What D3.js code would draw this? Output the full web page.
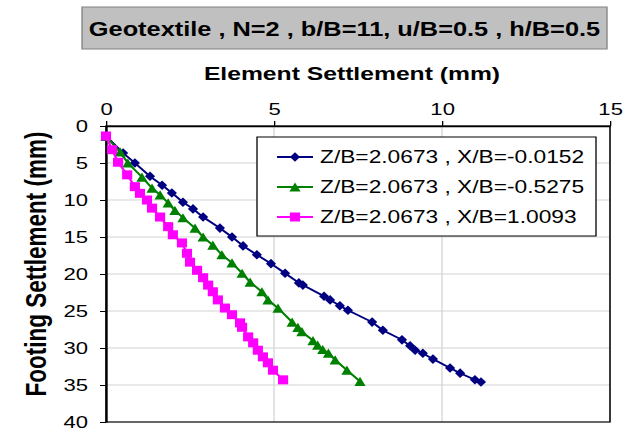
<!DOCTYPE html>
<html>
<head>
    <title>Geotextile element settlement</title>
    <script src="https://cdnjs.cloudflare.com/ajax/libs/d3/7.8.5/d3.min.js"></script>
    <style>
        body { margin: 0; background: #fff; }
        text { font-family: "Liberation Sans", Arial, sans-serif; }
    </style>
</head>
<body>
<svg id="chart" width="625" height="430"></svg>
<script>
    // values: [element settlement, footing settlement]
    var seriesNames = ["Z/B=2.0673 , X/B=-0.0152", "Z/B=2.0673 , X/B=-0.5275", "Z/B=2.0673 , X/B=1.0093"];
    var seriesColors = ["#000080", "#008000", "#ff00ff"];
    var seriesShapes = ["diamond", "triangle", "square"];

    var blue = [[0,1.35],[0.51,3.65],[0.86,5.0],[1.31,6.8],[1.67,8.0],[1.96,9.05],[2.29,10.3],[2.59,11.2],
        [2.89,12.3],[3.39,13.8],[3.75,15.0],[4.08,16.2],[4.49,17.4],[4.91,18.6],[5.33,19.9],[5.74,21.2],
        [5.86,21.5],[6.49,23.0],[6.67,23.5],[6.96,24.3],[7.2,24.9],[7.92,26.5],[8.24,27.6],[8.81,28.9],
        [9.05,29.7],[9.2,30.3],[9.43,30.7],[9.73,31.5],[10.24,32.7],[10.54,33.4],[10.98,34.3],[11.16,34.6]];
    var green = [[0,1.4],[0.42,3.5],[0.65,5.0],[1.07,6.9],[1.37,8.4],[1.61,9.3],[1.85,10.4],[2.05,11.4],
        [2.29,12.4],[2.65,13.8],[2.89,15.0],[3.18,16.1],[3.45,17.4],[3.75,18.5],[4.05,19.9],[4.29,21.1],
        [4.64,22.4],[4.82,23.5],[5.12,24.6],[5.54,26.5],[5.71,27.2],[5.83,27.8],[6.16,29.0],[6.3,29.6],
        [6.45,30.2],[6.62,30.7],[6.82,31.6],[7.17,33.0],[7.56,34.5]];
    var pink = [[0,1.35],[0.18,3.2],[0.36,4.9],[0.63,6.6],[0.86,8.2],[1.01,9.1],[1.22,10.0],[1.37,11.1],
        [1.61,12.3],[1.85,13.6],[1.99,14.7],[2.26,15.8],[2.41,17.2],[2.5,18.4],[2.71,19.5],[2.89,20.5],
        [3.04,21.5],[3.18,22.4],[3.33,23.5],[3.54,24.6],[3.75,25.5],[3.99,26.6],[4.05,27.2],[4.23,28.5],
        [4.38,29.3],[4.52,30.3],[4.67,31.2],[4.82,32.0],[4.97,33.0],[5.27,34.3]];

    var xTicks = [0, 5, 10, 15];
    var yTicks = [0, 5, 10, 15, 20, 25, 30, 35, 40];
    var chartTitle = "Geotextile , N=2 , b/B=11, u/B=0.5 , h/B=0.5";
    var xTitle = "Element Settlement (mm)";
    var yTitle = "Footing Settlement (mm)";

    // the original picture is stretched sideways, so draw in a squeezed frame and scale it back
    var SX = 1.3;
    var svg = d3.select("#chart");
    var g = svg.append("g").attr("transform", "scale(" + SX + ",1)");

    var plotLeft = 106 / SX, plotRight = 610 / SX, plotTop = 126, plotBottom = 422;
    var x = d3.scaleLinear().domain([0, 15]).range([plotLeft, plotRight]);
    var y = d3.scaleLinear().domain([0, 40]).range([plotTop, plotBottom]);

    // title box
    g.append("rect")
        .attr("x", 82 / SX).attr("y", 7)
        .attr("width", (607 - 82) / SX).attr("height", 42)
        .attr("fill", "#c0c0c0").attr("stroke", "#808080").attr("stroke-width", 1);
    g.append("text")
        .attr("x", 344.5 / SX).attr("y", 36)
        .attr("text-anchor", "middle")
        .style("font-size", "19.5px").style("font-weight", "bold")
        .text(chartTitle);

    // gridlines
    g.append("g").selectAll("line").data(yTicks.slice(1, -1)).enter().append("line")
        .attr("x1", plotLeft).attr("x2", plotRight)
        .attr("y1", d => y(d)).attr("y2", d => y(d))
        .attr("stroke", "#d4d4d4").attr("stroke-width", 1);
    g.append("g").selectAll("line").data(xTicks.slice(1, -1)).enter().append("line")
        .attr("x1", d => x(d)).attr("x2", d => x(d))
        .attr("y1", plotTop).attr("y2", plotBottom)
        .attr("stroke", "#d4d4d4").attr("stroke-width", 1);

    g.append("rect")
        .attr("x", plotLeft).attr("y", plotTop)
        .attr("width", plotRight - plotLeft).attr("height", plotBottom - plotTop)
        .attr("fill", "none").attr("stroke", "#000").attr("stroke-width", 1.2);

    // axes
    var xAxis = g.append("g").attr("transform", "translate(0," + plotTop + ")")
        .call(d3.axisTop(x).tickValues(xTicks).tickSize(5).tickSizeOuter(0).tickPadding(6));
    var yAxis = g.append("g").attr("transform", "translate(" + plotLeft + ",0)")
        .call(d3.axisLeft(y).tickValues(yTicks).tickSize(6 / SX).tickSizeOuter(0).tickPadding(12 / SX));
    [xAxis, yAxis].forEach(function(a) {
        a.select(".domain").attr("stroke", "#000").attr("stroke-width", 1.6);
        a.selectAll(".tick line").attr("stroke", "#000").attr("stroke-width", 1);
        a.selectAll(".tick text").attr("fill", "#000").style("font-size", "17px")
            .style("font-family", "'Liberation Sans', Arial, sans-serif");
    });

    // axis titles
    g.append("text")
        .attr("x", 352 / SX).attr("y", 80)
        .attr("text-anchor", "middle")
        .style("font-size", "19px").style("font-weight", "bold")
        .text(xTitle);
    g.append("text")
        .attr("transform", "translate(" + (46 / SX) + ",264) rotate(-90)")
        .attr("text-anchor", "middle")
        .style("font-size", "22.5px").style("font-weight", "bold")
        .text(yTitle);

    // marker outlines in the squeezed frame (w = half width, h = half height)
    function symbolFor(shape) {
        if (shape === "diamond") {
            var w = 3.9, h = 4.8;
            return "M0," + (-h) + "L" + w + ",0L0," + h + "L" + (-w) + ",0Z";
        }
        if (shape === "triangle") {
            var tw = 4.3, th = 4.6;
            return "M0," + (-th) + "L" + tw + "," + th + "L" + (-tw) + "," + th + "Z";
        }
        var sw = 3.9, sh = 4.5;
        return "M" + (-sw) + "," + (-sh) + "H" + sw + "V" + sh + "H" + (-sw) + "Z";
    }

    var line = d3.line().x(d => x(d[0])).y(d => y(d[1]));
    var allSeries = [blue, green, pink];

    allSeries.forEach(function(data, i) {
        var s = g.append("g");
        s.append("path").datum(data)
            .attr("d", line)
            .attr("fill", "none")
            .attr("stroke", seriesColors[i]).attr("stroke-width", 1.8);
        s.selectAll("path.pt").data(data).enter().append("path")
            .attr("class", "pt")
            .attr("transform", d => "translate(" + x(d[0]) + "," + y(d[1]) + ")")
            .attr("d", symbolFor(seriesShapes[i]))
            .attr("fill", seriesColors[i]);
    });

    // legend
    var legend = g.append("g");
    legend.append("rect")
        .attr("x", 257 / SX).attr("y", 137)
        .attr("width", (596 - 257) / SX).attr("height", 99)
        .attr("fill", "#fff").attr("stroke", "#000").attr("stroke-width", 1);
    seriesNames.forEach(function(name, i) {
        var ry = 157 + i * 30;
        legend.append("line")
            .attr("x1", 277 / SX).attr("x2", 313 / SX)
            .attr("y1", ry).attr("y2", ry)
            .attr("stroke", seriesColors[i]).attr("stroke-width", 1.8);
        legend.append("path")
            .attr("transform", "translate(" + (295 / SX) + "," + ry + ")")
            .attr("d", symbolFor(seriesShapes[i]))
            .attr("fill", seriesColors[i]);
        legend.append("text")
            .attr("x", 320 / SX).attr("y", ry + 6)
            .style("font-size", "17.5px")
            .text(name);
    });
</script>
</body>
</html>
